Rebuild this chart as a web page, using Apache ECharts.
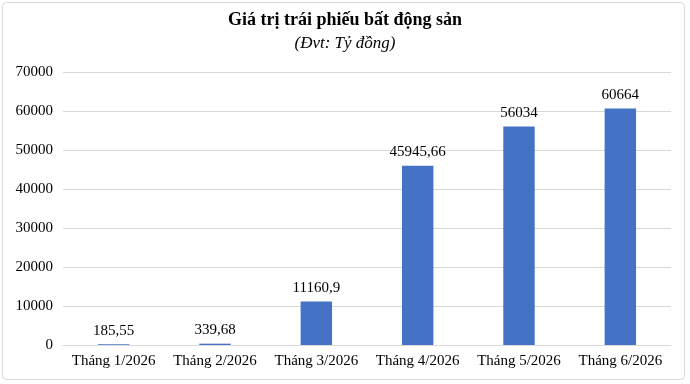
<!DOCTYPE html>
<html><head><meta charset="utf-8">
<script src="https://cdn.jsdelivr.net/npm/echarts@6/dist/echarts.min.js"></script>
<style>html,body{margin:0;padding:0;background:#fff}#c{width:690px;height:384px}</style>
</head><body><div id="c"></div>
<script>
const categories = ['Tháng 1/2026','Tháng 2/2026','Tháng 3/2026','Tháng 4/2026','Tháng 5/2026','Tháng 6/2026'];
const values = [185.55, 339.68, 11160.9, 45945.66, 56034, 60664];
const valueLabels = ['185,55','339,68','11160,9','45945,66','56034','60664'];
const yTicks = [0,10000,20000,30000,40000,50000,60000,70000];

const chart = echarts.init(document.getElementById('c'));
const font = '"Liberation Serif","Times New Roman",serif';
chart.setOption({
  animation:false,
  graphic:[{type:'rect',shape:{x:2.5,y:2.5,width:682,height:377,r:4},style:{fill:'none',stroke:'#d9d9d9',lineWidth:1}}],
  title:{text:'Giá trị trái phiếu bất động sản',subtext:'(Đvt: Tỷ đồng)',left:'center',top:6,itemGap:6,
    textStyle:{fontFamily:font,fontWeight:'bold',fontSize:18,color:'#000'},
    subtextStyle:{fontFamily:font,fontStyle:'italic',fontSize:17,color:'#000'}},
  grid:{left:63,right:19,top:72,bottom:39},
  xAxis:{type:'category',data:categories,
    axisLine:{lineStyle:{color:'#d9d9d9'}},axisTick:{show:false},
    axisLabel:{fontFamily:font,fontSize:15,color:'#000',margin:9,interval:0}},
  yAxis:{type:'value',min:yTicks[0],max:yTicks[yTicks.length-1],interval:10000,
    axisLine:{show:false},axisTick:{show:false},
    splitLine:{lineStyle:{color:'#d9d9d9'}},
    axisLabel:{fontFamily:font,fontSize:15,color:'#000',margin:10,formatter:v=>String(v)}},
  series:[{type:'bar',data:values,barWidth:'31%',itemStyle:{color:'#4472C4'},
    label:{show:true,position:'top',distance:6,fontFamily:font,fontSize:15,color:'#000',
      formatter:p=>valueLabels[p.dataIndex]}}]
});
</script></body></html>
